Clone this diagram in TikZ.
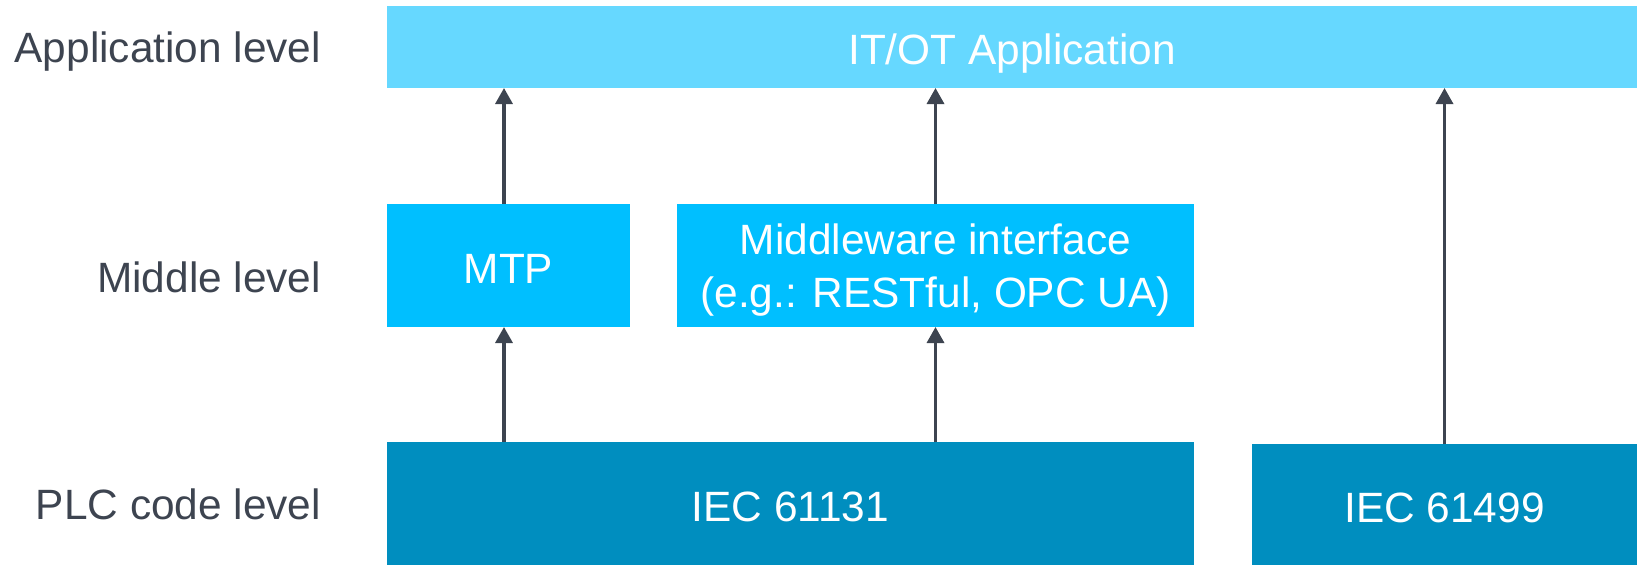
\documentclass[tikz,border=0pt]{standalone}
\usepackage{fontspec}
\setmainfont{Liberation Sans}
\usepackage{xcolor}
\usetikzlibrary{arrows.meta}
\definecolor{app-bg}{HTML}{66D8FF}
\definecolor{mid-bg}{HTML}{00BFFF}
\definecolor{plc-bg}{HTML}{008EBF}
\definecolor{slate}{HTML}{3D4450}

\begin{document}
\begin{tikzpicture}[every node/.style={font=\fontsize{12.06pt}{14.9pt}\selectfont,
      inner sep=0pt, outer sep=0pt},
    box/.style={text=white, minimum height=1.23cm, align=center, text depth=0pt},
    level/.style={text=slate, anchor=base east},
    flow/.style={-{Triangle[length=0.16cm, width=0.17cm]}, line width=0.95pt, color=slate}]
    \useasboundingbox (0, 0) rectangle (16.37, 5.65);
    \node[level] (applvl) at (3.21, 5.03) {Application level};
    \node[level] (midlvl) at (3.21, 2.73) {Middle level};
    \node[level] (plclvl) at (3.21, 0.46) {PLC code level};
    \node[box, fill=app-bg, minimum width=12.50cm, minimum height=0.82cm,
      text height=10.2pt] (app) at (10.12, 5.18) {IT/OT Application};
    \node[box, fill=mid-bg, minimum width=2.43cm,
      text height=10.4pt] (mtp) at (5.085, 2.995) {MTP};
    \node[box, fill=mid-bg, minimum width=5.17cm, text depth=-1.4pt] (mw)
      at (9.355, 2.995) {Middleware interface\\(e.g.: RESTful, OPC UA)};
    \node[box, fill=plc-bg, minimum width=8.07cm,
      text height=10.2pt] (iecA) at (7.905, 0.615) {IEC 61131};
    \node[box, fill=plc-bg, minimum width=3.85cm, minimum height=1.21cm,
      text height=10.2pt] (iecB) at (14.445, 0.605) {IEC 61499};
    \draw[flow] (iecA.north -| mtp.south) ++(-0.045, 0) -- ([xshift=-0.045cm]mtp.south);
    \draw[flow] ([xshift=-0.045cm]mtp.north) -- ([xshift=-0.045cm]mtp.north |- app.south);
    \draw[flow] (iecA.north -| mw.south) -- (mw.south);
    \draw[flow] (mw.north) -- (mw.north |- app.south);
    \draw[flow] (iecB.north) -- (iecB.north |- app.south);
  \end{tikzpicture}
\end{document}
